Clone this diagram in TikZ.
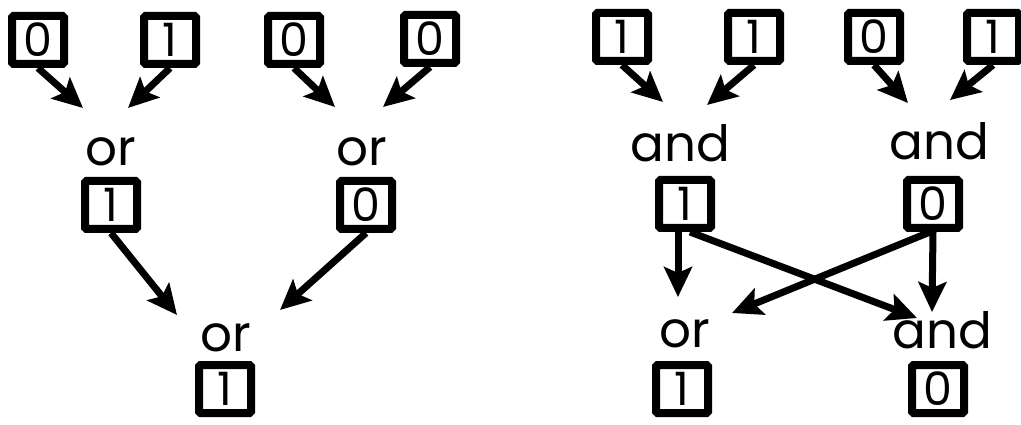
\documentclass[tikz,border=0pt]{standalone}
\usepackage{fontspec}
\newfontfamily\hand{Poppins}
\usetikzlibrary{arrows.meta}
\tikzset{
  bitbox/.style={draw, line width=8pt, rounded corners=1.5pt, minimum width=52pt, minimum height=48pt, inner sep=0pt,
    font=\hand\fontsize{46}{46}\selectfont},
  gatelbl/.style={inner sep=0pt, font=\hand\fontsize{50}{50}\selectfont},
  arr/.style={line width=7pt, -{Stealth[length=30pt,width=28pt,inset=6pt]}}
}
\begin{document}
\begin{tikzpicture}[x=1pt,y=-1pt]
\useasboundingbox (0,0) rectangle (1021,425);
% ---------- left tree ----------
\node[bitbox] (a1) at (38,40) {0};
\node[bitbox] (a2) at (170,40) {1};
\node[bitbox] (a3) at (294,40) {0};
\node[bitbox] (a4) at (430,39) {0};
\node[gatelbl] (ag1) at (111,152) {or};
\node[bitbox] (am1) at (111,205) {1};
\node[gatelbl] (ag2) at (362,152) {or};
\node[bitbox] (am2) at (366,205) {0};
\node[gatelbl] (ag3) at (226,338) {or};
\node[bitbox] (ab) at (225,389) {1};
\coordinate (ta1) at (83,108);
\coordinate (ta2) at (128,108);
\coordinate (ta3) at (335,107);
\coordinate (ta4) at (383,107);
\coordinate (ta5) at (177,315);
\coordinate (ta6) at (280,310);
\draw[arr] (a1.south) -- (ta1);
\draw[arr] (a2.south) -- (ta2);
\draw[arr] (a3.south) -- (ta3);
\draw[arr] (a4.south) -- (ta4);
\draw[arr] (am1.south) -- (ta5);
\draw[arr] (am2.south) -- (ta6);
% ---------- right tree ----------
\node[bitbox] (b1) at (622,37) {1};
\node[bitbox] (b2) at (754,37) {1};
\node[bitbox] (b3) at (874,37) {0};
\node[bitbox] (b4) at (993,37) {1};
\node[gatelbl] (bg1) at (680,143) {and};
\node[bitbox] (bm1) at (685,204) {1};
\node[gatelbl] (bg2) at (939,141) {and};
\node[bitbox] (bm2) at (933,204) {0};
\node[gatelbl] (bg3) at (685,334) {or};
\node[bitbox] (bb1) at (682,389) {1};
\node[gatelbl] (bg4) at (942,330) {and};
\node[bitbox] (bb2) at (938,389) {0};
\coordinate (tb1) at (663,102);
\coordinate (tb2) at (707,105);
\coordinate (tb3) at (908,103);
\coordinate (tb4) at (950,100);
\coordinate (tb5) at (678,297);
\coordinate (tb6) at (917,318);
\coordinate (tb7) at (932,312);
\coordinate (tb8) at (732,313);
\draw[arr] (b1.south) -- (tb1);
\draw[arr] (b2.south) -- (tb2);
\draw[arr] (b3.south) -- (tb3);
\draw[arr] (b4.south) -- (tb4);
\draw[arr] ([xshift=-7pt]bm1.south) -- (tb5);
\draw[arr] ([xshift=5pt]bm1.south) -- (tb6);
\draw[arr] ([xshift=-3pt]bm2.south) -- (tb8);
\draw[arr] ([xshift=0pt]bm2.south) -- (tb7);
\end{tikzpicture}
\end{document}
